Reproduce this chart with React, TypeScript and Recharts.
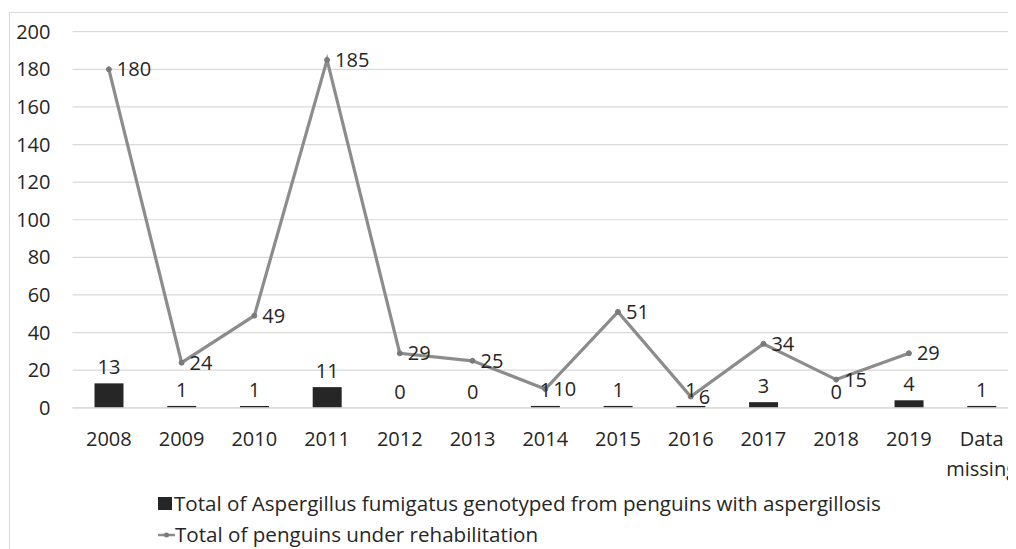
import React from "react";
import {
  Bar,
  CartesianGrid,
  ComposedChart,
  LabelList,
  Legend,
  Line,
  XAxis,
  YAxis,
} from "recharts";

const categories = [
  "2008", "2009", "2010", "2011", "2012", "2013", "2014",
  "2015", "2016", "2017", "2018", "2019", "Data missing",
];
const genotyped = [13, 1, 1, 11, 0, 0, 1, 1, 1, 3, 0, 4, 1];
const rehab: (number | null)[] = [180, 24, 49, 185, 29, 25, 10, 51, 6, 34, 15, 29, null];
const yTicks = [0, 20, 40, 60, 80, 100, 120, 140, 160, 180, 200];

const BAR_NAME = "Total of Aspergillus fumigatus genotyped from penguins with aspergillosis";
const LINE_NAME = "Total of penguins under rehabilitation";

const FONT = "'Open Sans', sans-serif";
const FS = 20;
const TEXT = "#262626";
const BAR_COLOR = "#262626";
const LINE_COLOR = "#8c8c8c";
const GRID = "#d9d9d9";

const data = categories.map((c, i) => ({
  year: c,
  cases: genotyped[i],
  penguins: rehab[i],
}));

// wraps multi-word categories ("Data missing") onto separate lines
const CategoryTick = ({ x, y, payload }: any) => {
  const words = String(payload.value).split(" ");
  return (
    <text x={x} y={y} textAnchor="middle" fill={TEXT} fontSize={FS} fontFamily={FONT}>
      {words.map((w, i) => (
        <tspan key={i} x={x} dy={i === 0 ? 38 : 30}>
          {w}
        </tspan>
      ))}
    </text>
  );
};

const renderLegend = (props: any) => {
  const items = props.payload || [];
  return (
    <div style={{ fontFamily: FONT, fontSize: 20.6, color: TEXT, lineHeight: 1 }}>
      {items.map((entry: any) => (
        <div key={entry.value} style={{ display: "flex", alignItems: "center", height: 31, whiteSpace: "nowrap" }}>
          {entry.dataKey === "cases" ? (
            <span style={{ display: "inline-block", width: 14, height: 13, background: BAR_COLOR, marginRight: 2 }} />
          ) : (
            <svg width={17} height={10}>
              <line x1={0} y1={5} x2={17} y2={5} stroke={LINE_COLOR} strokeWidth={2.5} />
              <circle cx={8.5} cy={5} r={2.5} fill="#7a7a7a" />
            </svg>
          )}
          <span>{entry.value}</span>
        </div>
      ))}
    </div>
  );
};

export default function App() {
  return (
    <div style={{ width: 1008, height: 541, overflow: "hidden", paddingTop: 4, paddingLeft: 1, boxSizing: "border-box" }}>
      <div style={{ border: `1px solid ${GRID}`, width: 1040, height: 560, background: "#fff" }}>
        <ComposedChart
          width={1040}
          height={560}
          data={data}
          margin={{ top: 18.7, right: 32, left: 0.5, bottom: 105.2 }}
          barSize={29}
        >
          <CartesianGrid vertical={false} stroke={GRID} strokeWidth={1.2} />
          <XAxis
            dataKey="year"
            interval={0}
            height={60}
            tickLine={false}
            tickSize={0}
            tickMargin={0}
            axisLine={{ stroke: GRID, strokeWidth: 1.2 }}
            tick={<CategoryTick />}
          />
          <YAxis
            width={62}
            domain={[0, 200]}
            ticks={yTicks}
            axisLine={false}
            tickLine={false}
            tickSize={0}
            tickMargin={22}
            tick={{ fill: TEXT, fontSize: FS, fontFamily: FONT }}
          />
          <Legend
            layout="horizontal"
            verticalAlign="middle"
            align="center"
            content={renderLegend}
            wrapperStyle={{ top: 475, left: 148, width: 900 }}
          />
          <Bar
            dataKey="cases"
            name={BAR_NAME}
            fill={BAR_COLOR}
            minPointSize={0.01}
            isAnimationActive={false}
          >
            <LabelList
              dataKey="cases"
              position="top"
              offset={9}
              fill={TEXT}
              fontSize={FS}
              fontFamily={FONT}
            />
          </Bar>
          <Line
            dataKey="penguins"
            name={LINE_NAME}
            stroke={LINE_COLOR}
            strokeWidth={3.2}
            dot={{ r: 2.5, fill: "#7a7a7a", stroke: "#7a7a7a", strokeWidth: 1 }}
            activeDot={false}
            isAnimationActive={false}
          >
            <LabelList
              dataKey="penguins"
              position="right"
              offset={8}
              fill={TEXT}
              fontSize={FS}
              fontFamily={FONT}
            />
          </Line>
        </ComposedChart>
      </div>
    </div>
  );
}
